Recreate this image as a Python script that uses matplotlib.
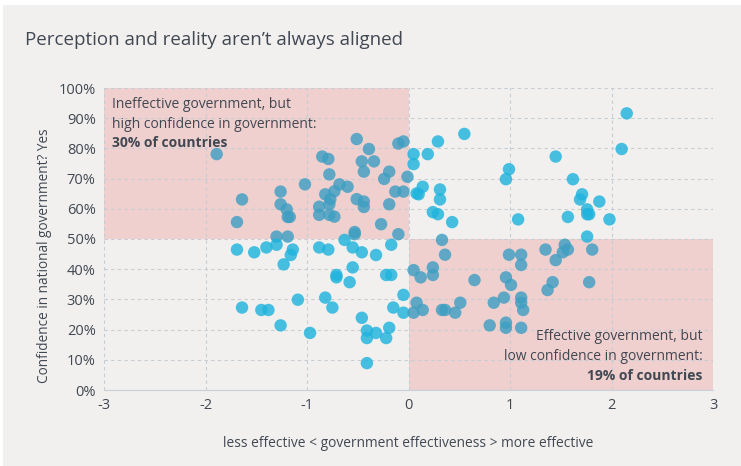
import matplotlib.pyplot as plt
from matplotlib.patches import Rectangle

# government effectiveness (x) and confidence in national government, % (y)
effectiveness = [
    -1.89, -1.64, -1.69, -1.69, -1.52, -1.40, -1.30, -1.30, -1.26, -1.26,
    -1.20, -1.19, -1.17, -1.19, -1.14, -1.16, -1.23, -1.64, -1.45, -1.38,
    -1.26, -1.09, -0.97, -1.02, -0.88, -0.88, -0.85, -0.79, -0.78, -0.82,
    -0.77, -0.78, -0.78, -0.73, -0.73, -0.68, -0.60, -0.51, -0.39, -0.46,
    -0.34, -0.44, -0.51, -0.44, -0.44, -0.19, -0.24, -0.10, -0.05, -0.01,
    -0.13, -0.05, -0.19, -0.27, -0.10, -0.53, -0.53, -0.63, -0.55, -0.46,
    -0.88, -0.79, -0.32, -0.17, -0.55, -0.71, -0.71, -0.58, -0.22, -0.17,
    -0.05, 0.05, -0.82, -0.75, -0.46, -0.41, -0.41, -0.32, -0.19, -0.22,
    -0.41, -0.15, -0.05, 0.05, 0.08, 0.05, 0.05, 0.08,
    0.19, 0.29, 0.55, 0.10, 0.14, 0.31, 0.31, 0.24, 0.29, 0.43,
    0.33, 0.36, 0.24, 0.24, 0.12, 0.14, 0.33, 0.36, 0.46, 0.51,
    0.65, 0.80, 0.84, 0.94, 0.96, 1.01, 0.96, 0.96, 0.99, 1.11,
    1.11, 1.11, 1.11, 1.13, 1.11, 0.96, 0.99, 1.08, 1.35, 1.45,
    1.52, 1.54, 1.57, 1.42, 1.37, 1.78, 1.81, 1.76, 1.45, 1.62,
    1.71, 1.69, 1.57, 1.76, 1.76, 1.78, 1.88, 1.98, 2.10, 2.15,
]
confidence = [
    78.1, 63.1, 55.6, 46.5, 45.6, 47.2, 50.8, 48.1, 65.7, 61.5,
    59.8, 57.3, 57.3, 50.8, 46.5, 44.7, 41.6, 27.3, 26.5, 26.5,
    21.4, 29.9, 18.9, 68.1, 60.7, 58.0, 77.3, 76.5, 71.4, 64.8,
    63.2, 61.5, 58.0, 57.4, 65.8, 68.1, 67.3, 83.1, 79.8, 75.7,
    75.7, 72.3, 63.2, 62.4, 60.6, 72.3, 69.9, 81.6, 82.3, 70.6,
    65.7, 65.7, 61.5, 54.9, 51.6, 52.3, 51.6, 49.7, 47.2, 45.6,
    47.2, 46.5, 44.7, 48.1, 40.6, 38.1, 37.3, 35.7, 38.1, 38.1,
    31.5, 39.7, 30.6, 27.3, 23.9, 19.7, 17.2, 18.9, 20.6, 17.2,
    8.9, 27.3, 25.6, 25.6, 28.9, 78.1, 74.8, 65.1,
    78.1, 82.3, 84.8, 64.8, 67.3, 66.4, 63.1, 58.9, 58.2, 55.6,
    49.7, 44.8, 40.6, 38.1, 37.3, 26.5, 26.5, 26.5, 25.6, 28.9,
    36.4, 21.4, 28.9, 30.6, 37.3, 34.8, 22.3, 20.6, 44.8, 44.8,
    41.4, 30.6, 28.9, 26.5, 20.6, 69.8, 73.1, 56.5, 46.5, 43.0,
    45.6, 48.1, 46.5, 35.7, 33.1, 35.7, 46.5, 50.8, 77.3, 69.8,
    64.8, 63.1, 57.3, 59.8, 58.2, 58.2, 62.4, 56.5, 79.8, 91.6,
]

x_ticks = [-3, -2, -1, 0, 1, 2, 3]
y_ticks = list(range(0, 101, 10))

note_top = ["Ineffective government, but", "high confidence in government:", "30% of countries"]
note_bottom = ["Effective government, but", "low confidence in government:", "19% of countries"]

bg = "#f1f0ee"
pink = "#efd0cf"
text_col = "#414852"
grid_col = "#c6ccd4"

plt.rcParams["font.family"] = ["Open Sans", "DejaVu Sans"]

fig = plt.figure(figsize=(7.41, 4.66), dpi=100, facecolor=bg)
# thin white strips at the top and left edge of the panel
fig.patches.append(Rectangle((0, 1 - 5 / 466), 1, 5 / 466, transform=fig.transFigure,
                             facecolor="white", edgecolor="none"))
fig.patches.append(Rectangle((0, 0), 3 / 741, 1, transform=fig.transFigure,
                             facecolor="white", edgecolor="none"))
ax = fig.add_axes([104 / 741, 1 - 390 / 466, 609 / 741, 302 / 466])
ax.set_facecolor(bg)

# quadrants where perception and reality disagree
ax.add_patch(Rectangle((-3, 50), 3, 50, facecolor=pink, edgecolor="none", zorder=0))
ax.add_patch(Rectangle((0, 0), 3, 50, facecolor=pink, edgecolor="none", zorder=0))

colors = []
for xv, yv in zip(effectiveness, confidence):
    if (xv < 0 and yv > 50) or (xv > 0 and yv < 50):
        colors.append("#3f9fc2")
    else:
        colors.append("#1fb3dd")
ax.scatter(effectiveness, confidence, s=80, c=colors, alpha=0.82, edgecolors="none", zorder=3)

ax.set_xlim(-3, 3)
ax.set_ylim(0, 100)
ax.set_xticks(x_ticks)
ax.set_xticklabels([str(t) for t in x_ticks])
ax.set_yticks(y_ticks)
ax.set_yticklabels([f"{t}%" for t in y_ticks])
ax.grid(True, color=grid_col, linestyle=(0, (3, 3)), linewidth=0.8, zorder=1)
ax.set_axisbelow(False)
for side in ["top", "right", "left"]:
    ax.spines[side].set_visible(False)
ax.spines["bottom"].set_color("#c9d0d8")
ax.spines["bottom"].set_linewidth(0.8)
ax.tick_params(length=0, labelsize=10.5, colors=text_col, pad=6)

ax.set_xlabel("less effective < government effectiveness > more effective",
              fontsize=9.9, color=text_col, labelpad=16)
ax.set_ylabel("Confidence in national government? Yes", fontsize=9.8, color=text_col)
ax.yaxis.set_label_coords(-52 / 609, 0.444)

top_y = [94.4, 88.0, 81.9]
bottom_y = [17.6, 11.0, 4.7]
for i, line in enumerate(note_top):
    ax.text(-2.92, top_y[i], line, fontsize=10, color=text_col, va="center", ha="left",
            fontweight="bold" if i == 2 else "normal", zorder=4)
for i, line in enumerate(note_bottom):
    ax.text(2.9, bottom_y[i], line, fontsize=10, color=text_col, va="center", ha="right",
            fontweight="bold" if i == 2 else "normal", zorder=4)

fig.text(25 / 741, 1 - 40 / 466, "Perception and reality aren\u2019t always aligned",
         fontsize=13.5, color=text_col, va="center", ha="left")

fig.savefig("out.png", dpi=100, facecolor=fig.get_facecolor())
